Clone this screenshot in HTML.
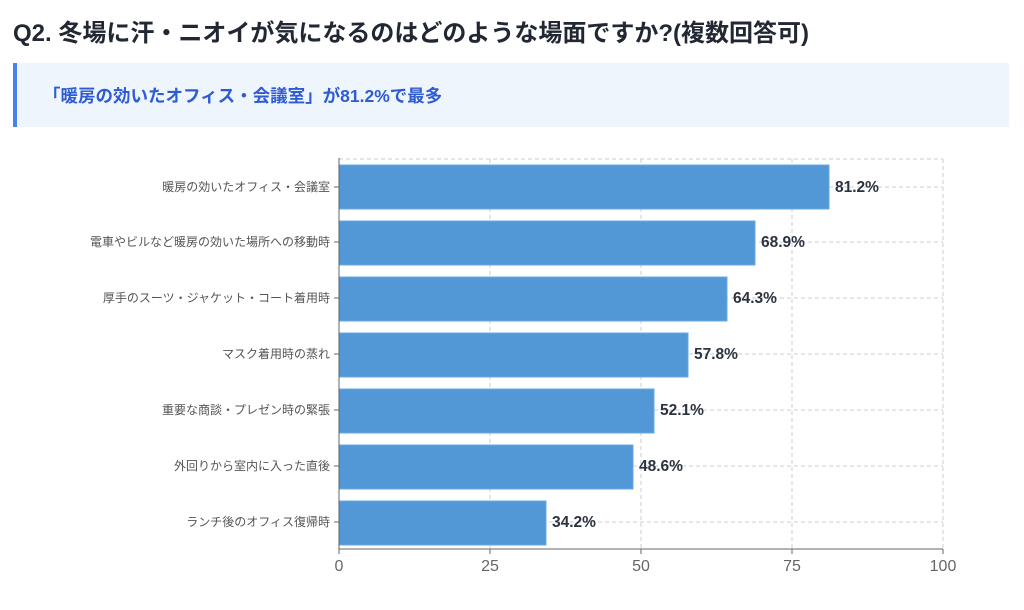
<!DOCTYPE html>
<html><head><meta charset="utf-8"><style>
body{margin:0;width:1024px;height:610px;background:#fff;font-family:"Liberation Sans","Noto Sans CJK JP",sans-serif;overflow:hidden;position:relative}
.t{position:absolute;left:13px;top:13px;font-size:24px;font-weight:bold;color:#222833;white-space:nowrap}
.c{position:absolute;left:13px;top:63px;width:992px;height:64px;background:#eef5fd;border-left:4px solid #4a80ec}
.c span{position:absolute;left:26px;top:20px;font-size:17.5px;font-weight:bold;color:#2f5bd3;white-space:nowrap}
svg{position:absolute;left:0;top:0}
</style></head><body>
<div class="t">Q2. 冬場に汗・ニオイが気になるのはどのような場面ですか?(複数回答可)</div>
<div class="c"><span>「暖房の効いたオフィス・会議室」が81.2%で最多</span></div>
<svg width="1024" height="610" font-family="Liberation Sans, Noto Sans CJK JP, sans-serif">
<g stroke="#ccc" stroke-dasharray="4,3" fill="none">
<line x1="339" y1="159" x2="943" y2="159"/>
<line x1="490" y1="159" x2="490" y2="549"/>
<line x1="641" y1="159" x2="641" y2="549"/>
<line x1="792" y1="159" x2="792" y2="549"/>
<line x1="943" y1="159" x2="943" y2="549"/>
<line x1="339" y1="187" x2="943" y2="187"/>
<line x1="339" y1="242" x2="943" y2="242"/>
<line x1="339" y1="298" x2="943" y2="298"/>
<line x1="339" y1="354" x2="943" y2="354"/>
<line x1="339" y1="410" x2="943" y2="410"/>
<line x1="339" y1="466" x2="943" y2="466"/>
<line x1="339" y1="522" x2="943" y2="522"/>
</g>
<g fill="#5297d6" stroke="#6aa8e6" stroke-width="1">
<rect x="339" y="165" width="490" height="44"/>
<rect x="339" y="221" width="416" height="44"/>
<rect x="339" y="277" width="388" height="44"/>
<rect x="339" y="333" width="349" height="44"/>
<rect x="339" y="389" width="315" height="44"/>
<rect x="339" y="445" width="294" height="44"/>
<rect x="339" y="501" width="207" height="44"/>
</g>
<g stroke="#666" fill="none">
<line x1="339" y1="158" x2="339" y2="549"/>
<line x1="339" y1="549" x2="943" y2="549"/>
<path d="M334 187h5M334 242h5M334 298h5M334 354h5M334 410h5M334 466h5M334 522h5M339 549v5M490 549v5M641 549v5M792 549v5M943 549v5"/>
</g>
<g font-size="15.5" font-weight="bold" fill="#2b3340">
<text x="835" y="192">81.2%</text>
<text x="761" y="247">68.9%</text>
<text x="733" y="303">64.3%</text>
<text x="694" y="359">57.8%</text>
<text x="660" y="415">52.1%</text>
<text x="639" y="471">48.6%</text>
<text x="552" y="527">34.2%</text>
</g>
<g font-size="12" fill="#555" text-anchor="end">
<text x="330" y="191">暖房の効いたオフィス・会議室</text>
<text x="330" y="246">電車やビルなど暖房の効いた場所への移動時</text>
<text x="330" y="302">厚手のスーツ・ジャケット・コート着用時</text>
<text x="330" y="358">マスク着用時の蒸れ</text>
<text x="330" y="414">重要な商談・プレゼン時の緊張</text>
<text x="330" y="470">外回りから室内に入った直後</text>
<text x="330" y="526">ランチ後のオフィス復帰時</text>
</g>
<g font-size="16" fill="#666" text-anchor="middle">
<text x="339" y="571">0</text><text x="490" y="571">25</text><text x="641" y="571">50</text><text x="792" y="571">75</text><text x="943" y="571">100</text>
</g>
</svg>
</body></html>
